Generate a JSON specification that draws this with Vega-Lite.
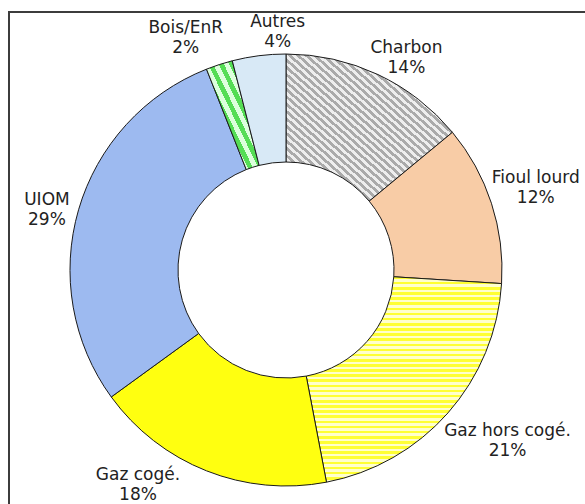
{
 "$schema": "https://vega.github.io/schema/vega-lite/v6.json",
 "width": 580, "height": 520,
 "autosize": {"type": "none"},
 "padding": {"left": 9, "top": 12, "right": 0, "bottom": 0},
 "background": "white",
 "view": {"stroke": "#3c3c3c", "strokeWidth": 2, "fill": "white"},
 "config": {"text": {"font": "DejaVu Sans"}},
 "data": {"values": [
   {"source": "Charbon", "value": 14, "order": 1, "label": "Charbon\n14%"},
   {"source": "Fioul lourd", "value": 12, "order": 2, "label": "Fioul lourd\n12%"},
   {"source": "Gaz hors cogé.", "value": 21, "order": 3, "label": "Gaz hors cogé.\n21%"},
   {"source": "Gaz cogé.", "value": 18, "order": 4, "label": "Gaz cogé.\n18%"},
   {"source": "UIOM", "value": 29, "order": 5, "label": "UIOM\n29%"},
   {"source": "Bois/EnR", "value": 2, "order": 6, "label": "Bois/EnR\n2%"},
   {"source": "Autres", "value": 4, "order": 7, "label": "Autres\n4%"}
 ]},
 "encoding": {
   "theta": {"field": "value", "type": "quantitative", "stack": true},
   "order": {"field": "order", "type": "quantitative"}
 },
 "layer": [
  {
   "mark": {"type": "arc", "innerRadius": 108, "outerRadius": 216, "x": 277, "y": 258, "stroke": "#1a1a1a", "strokeWidth": 1},
   "encoding": {
    "fill": {
     "field": "source", "type": "nominal", "legend": null,
     "scale": {
      "domain": ["Charbon", "Fioul lourd", "Gaz hors cogé.", "Gaz cogé.", "UIOM", "Bois/EnR", "Autres"],
      "range": ["#c8c8c8", "#f8cca6", "#ffff80", "#ffff10", "#9dbaf0", "#9be89b", "#d8e9f6"]
     },
     "condition": [
      {"test": "datum.source === 'Charbon'", "value": {"gradient": "linear", "x1": 0, "y1": 1, "x2": 1, "y2": 0, "stops": [
{"offset":0,"color":"#aaa"},{"offset":0.0125,"color":"#aaa"},{"offset":0.0125,"color":"#eee"},{"offset":0.025,"color":"#eee"},
{"offset":0.025,"color":"#aaa"},{"offset":0.0375,"color":"#aaa"},{"offset":0.0375,"color":"#eee"},{"offset":0.05,"color":"#eee"},
{"offset":0.05,"color":"#aaa"},{"offset":0.0625,"color":"#aaa"},{"offset":0.0625,"color":"#eee"},{"offset":0.075,"color":"#eee"},
{"offset":0.075,"color":"#aaa"},{"offset":0.0875,"color":"#aaa"},{"offset":0.0875,"color":"#eee"},{"offset":0.1,"color":"#eee"},
{"offset":0.1,"color":"#aaa"},{"offset":0.1125,"color":"#aaa"},{"offset":0.1125,"color":"#eee"},{"offset":0.125,"color":"#eee"},
{"offset":0.125,"color":"#aaa"},{"offset":0.1375,"color":"#aaa"},{"offset":0.1375,"color":"#eee"},{"offset":0.15,"color":"#eee"},
{"offset":0.15,"color":"#aaa"},{"offset":0.1625,"color":"#aaa"},{"offset":0.1625,"color":"#eee"},{"offset":0.175,"color":"#eee"},
{"offset":0.175,"color":"#aaa"},{"offset":0.1875,"color":"#aaa"},{"offset":0.1875,"color":"#eee"},{"offset":0.2,"color":"#eee"},
{"offset":0.2,"color":"#aaa"},{"offset":0.2125,"color":"#aaa"},{"offset":0.2125,"color":"#eee"},{"offset":0.225,"color":"#eee"},
{"offset":0.225,"color":"#aaa"},{"offset":0.2375,"color":"#aaa"},{"offset":0.2375,"color":"#eee"},{"offset":0.25,"color":"#eee"},
{"offset":0.25,"color":"#aaa"},{"offset":0.2625,"color":"#aaa"},{"offset":0.2625,"color":"#eee"},{"offset":0.275,"color":"#eee"},
{"offset":0.275,"color":"#aaa"},{"offset":0.2875,"color":"#aaa"},{"offset":0.2875,"color":"#eee"},{"offset":0.3,"color":"#eee"},
{"offset":0.3,"color":"#aaa"},{"offset":0.3125,"color":"#aaa"},{"offset":0.3125,"color":"#eee"},{"offset":0.325,"color":"#eee"},
{"offset":0.325,"color":"#aaa"},{"offset":0.3375,"color":"#aaa"},{"offset":0.3375,"color":"#eee"},{"offset":0.35,"color":"#eee"},
{"offset":0.35,"color":"#aaa"},{"offset":0.3625,"color":"#aaa"},{"offset":0.3625,"color":"#eee"},{"offset":0.375,"color":"#eee"},
{"offset":0.375,"color":"#aaa"},{"offset":0.3875,"color":"#aaa"},{"offset":0.3875,"color":"#eee"},{"offset":0.4,"color":"#eee"},
{"offset":0.4,"color":"#aaa"},{"offset":0.4125,"color":"#aaa"},{"offset":0.4125,"color":"#eee"},{"offset":0.425,"color":"#eee"},
{"offset":0.425,"color":"#aaa"},{"offset":0.4375,"color":"#aaa"},{"offset":0.4375,"color":"#eee"},{"offset":0.45,"color":"#eee"},
{"offset":0.45,"color":"#aaa"},{"offset":0.4625,"color":"#aaa"},{"offset":0.4625,"color":"#eee"},{"offset":0.475,"color":"#eee"},
{"offset":0.475,"color":"#aaa"},{"offset":0.4875,"color":"#aaa"},{"offset":0.4875,"color":"#eee"},{"offset":0.5,"color":"#eee"},
{"offset":0.5,"color":"#aaa"},{"offset":0.5125,"color":"#aaa"},{"offset":0.5125,"color":"#eee"},{"offset":0.525,"color":"#eee"},
{"offset":0.525,"color":"#aaa"},{"offset":0.5375,"color":"#aaa"},{"offset":0.5375,"color":"#eee"},{"offset":0.55,"color":"#eee"},
{"offset":0.55,"color":"#aaa"},{"offset":0.5625,"color":"#aaa"},{"offset":0.5625,"color":"#eee"},{"offset":0.575,"color":"#eee"},
{"offset":0.575,"color":"#aaa"},{"offset":0.5875,"color":"#aaa"},{"offset":0.5875,"color":"#eee"},{"offset":0.6,"color":"#eee"},
{"offset":0.6,"color":"#aaa"},{"offset":0.6125,"color":"#aaa"},{"offset":0.6125,"color":"#eee"},{"offset":0.625,"color":"#eee"},
{"offset":0.625,"color":"#aaa"},{"offset":0.6375,"color":"#aaa"},{"offset":0.6375,"color":"#eee"},{"offset":0.65,"color":"#eee"},
{"offset":0.65,"color":"#aaa"},{"offset":0.6625,"color":"#aaa"},{"offset":0.6625,"color":"#eee"},{"offset":0.675,"color":"#eee"},
{"offset":0.675,"color":"#aaa"},{"offset":0.6875,"color":"#aaa"},{"offset":0.6875,"color":"#eee"},{"offset":0.7,"color":"#eee"},
{"offset":0.7,"color":"#aaa"},{"offset":0.7125,"color":"#aaa"},{"offset":0.7125,"color":"#eee"},{"offset":0.725,"color":"#eee"},
{"offset":0.725,"color":"#aaa"},{"offset":0.7375,"color":"#aaa"},{"offset":0.7375,"color":"#eee"},{"offset":0.75,"color":"#eee"},
{"offset":0.75,"color":"#aaa"},{"offset":0.7625,"color":"#aaa"},{"offset":0.7625,"color":"#eee"},{"offset":0.775,"color":"#eee"},
{"offset":0.775,"color":"#aaa"},{"offset":0.7875,"color":"#aaa"},{"offset":0.7875,"color":"#eee"},{"offset":0.8,"color":"#eee"},
{"offset":0.8,"color":"#aaa"},{"offset":0.8125,"color":"#aaa"},{"offset":0.8125,"color":"#eee"},{"offset":0.825,"color":"#eee"},
{"offset":0.825,"color":"#aaa"},{"offset":0.8375,"color":"#aaa"},{"offset":0.8375,"color":"#eee"},{"offset":0.85,"color":"#eee"},
{"offset":0.85,"color":"#aaa"},{"offset":0.8625,"color":"#aaa"},{"offset":0.8625,"color":"#eee"},{"offset":0.875,"color":"#eee"},
{"offset":0.875,"color":"#aaa"},{"offset":0.8875,"color":"#aaa"},{"offset":0.8875,"color":"#eee"},{"offset":0.9,"color":"#eee"},
{"offset":0.9,"color":"#aaa"},{"offset":0.9125,"color":"#aaa"},{"offset":0.9125,"color":"#eee"},{"offset":0.925,"color":"#eee"},
{"offset":0.925,"color":"#aaa"},{"offset":0.9375,"color":"#aaa"},{"offset":0.9375,"color":"#eee"},{"offset":0.95,"color":"#eee"},
{"offset":0.95,"color":"#aaa"},{"offset":0.9625,"color":"#aaa"},{"offset":0.9625,"color":"#eee"},{"offset":0.975,"color":"#eee"},
{"offset":0.975,"color":"#aaa"},{"offset":0.9875,"color":"#aaa"},{"offset":0.9875,"color":"#eee"},{"offset":1,"color":"#eee"}
      ]}},
      {"test": "datum.source === 'Gaz hors cogé.'", "value": {"gradient": "linear", "x1": 0, "y1": 0, "x2": 0, "y2": 1, "stops": [
{"offset":0,"color":"#ff3"},{"offset":0.0125,"color":"#ff3"},{"offset":0.0125,"color":"#ffc"},{"offset":0.025,"color":"#ffc"},
{"offset":0.025,"color":"#ff3"},{"offset":0.0375,"color":"#ff3"},{"offset":0.0375,"color":"#ffc"},{"offset":0.05,"color":"#ffc"},
{"offset":0.05,"color":"#ff3"},{"offset":0.0625,"color":"#ff3"},{"offset":0.0625,"color":"#ffc"},{"offset":0.075,"color":"#ffc"},
{"offset":0.075,"color":"#ff3"},{"offset":0.0875,"color":"#ff3"},{"offset":0.0875,"color":"#ffc"},{"offset":0.1,"color":"#ffc"},
{"offset":0.1,"color":"#ff3"},{"offset":0.1125,"color":"#ff3"},{"offset":0.1125,"color":"#ffc"},{"offset":0.125,"color":"#ffc"},
{"offset":0.125,"color":"#ff3"},{"offset":0.1375,"color":"#ff3"},{"offset":0.1375,"color":"#ffc"},{"offset":0.15,"color":"#ffc"},
{"offset":0.15,"color":"#ff3"},{"offset":0.1625,"color":"#ff3"},{"offset":0.1625,"color":"#ffc"},{"offset":0.175,"color":"#ffc"},
{"offset":0.175,"color":"#ff3"},{"offset":0.1875,"color":"#ff3"},{"offset":0.1875,"color":"#ffc"},{"offset":0.2,"color":"#ffc"},
{"offset":0.2,"color":"#ff3"},{"offset":0.2125,"color":"#ff3"},{"offset":0.2125,"color":"#ffc"},{"offset":0.225,"color":"#ffc"},
{"offset":0.225,"color":"#ff3"},{"offset":0.2375,"color":"#ff3"},{"offset":0.2375,"color":"#ffc"},{"offset":0.25,"color":"#ffc"},
{"offset":0.25,"color":"#ff3"},{"offset":0.2625,"color":"#ff3"},{"offset":0.2625,"color":"#ffc"},{"offset":0.275,"color":"#ffc"},
{"offset":0.275,"color":"#ff3"},{"offset":0.2875,"color":"#ff3"},{"offset":0.2875,"color":"#ffc"},{"offset":0.3,"color":"#ffc"},
{"offset":0.3,"color":"#ff3"},{"offset":0.3125,"color":"#ff3"},{"offset":0.3125,"color":"#ffc"},{"offset":0.325,"color":"#ffc"},
{"offset":0.325,"color":"#ff3"},{"offset":0.3375,"color":"#ff3"},{"offset":0.3375,"color":"#ffc"},{"offset":0.35,"color":"#ffc"},
{"offset":0.35,"color":"#ff3"},{"offset":0.3625,"color":"#ff3"},{"offset":0.3625,"color":"#ffc"},{"offset":0.375,"color":"#ffc"},
{"offset":0.375,"color":"#ff3"},{"offset":0.3875,"color":"#ff3"},{"offset":0.3875,"color":"#ffc"},{"offset":0.4,"color":"#ffc"},
{"offset":0.4,"color":"#ff3"},{"offset":0.4125,"color":"#ff3"},{"offset":0.4125,"color":"#ffc"},{"offset":0.425,"color":"#ffc"},
{"offset":0.425,"color":"#ff3"},{"offset":0.4375,"color":"#ff3"},{"offset":0.4375,"color":"#ffc"},{"offset":0.45,"color":"#ffc"},
{"offset":0.45,"color":"#ff3"},{"offset":0.4625,"color":"#ff3"},{"offset":0.4625,"color":"#ffc"},{"offset":0.475,"color":"#ffc"},
{"offset":0.475,"color":"#ff3"},{"offset":0.4875,"color":"#ff3"},{"offset":0.4875,"color":"#ffc"},{"offset":0.5,"color":"#ffc"},
{"offset":0.5,"color":"#ff3"},{"offset":0.5125,"color":"#ff3"},{"offset":0.5125,"color":"#ffc"},{"offset":0.525,"color":"#ffc"},
{"offset":0.525,"color":"#ff3"},{"offset":0.5375,"color":"#ff3"},{"offset":0.5375,"color":"#ffc"},{"offset":0.55,"color":"#ffc"},
{"offset":0.55,"color":"#ff3"},{"offset":0.5625,"color":"#ff3"},{"offset":0.5625,"color":"#ffc"},{"offset":0.575,"color":"#ffc"},
{"offset":0.575,"color":"#ff3"},{"offset":0.5875,"color":"#ff3"},{"offset":0.5875,"color":"#ffc"},{"offset":0.6,"color":"#ffc"},
{"offset":0.6,"color":"#ff3"},{"offset":0.6125,"color":"#ff3"},{"offset":0.6125,"color":"#ffc"},{"offset":0.625,"color":"#ffc"},
{"offset":0.625,"color":"#ff3"},{"offset":0.6375,"color":"#ff3"},{"offset":0.6375,"color":"#ffc"},{"offset":0.65,"color":"#ffc"},
{"offset":0.65,"color":"#ff3"},{"offset":0.6625,"color":"#ff3"},{"offset":0.6625,"color":"#ffc"},{"offset":0.675,"color":"#ffc"},
{"offset":0.675,"color":"#ff3"},{"offset":0.6875,"color":"#ff3"},{"offset":0.6875,"color":"#ffc"},{"offset":0.7,"color":"#ffc"},
{"offset":0.7,"color":"#ff3"},{"offset":0.7125,"color":"#ff3"},{"offset":0.7125,"color":"#ffc"},{"offset":0.725,"color":"#ffc"},
{"offset":0.725,"color":"#ff3"},{"offset":0.7375,"color":"#ff3"},{"offset":0.7375,"color":"#ffc"},{"offset":0.75,"color":"#ffc"},
{"offset":0.75,"color":"#ff3"},{"offset":0.7625,"color":"#ff3"},{"offset":0.7625,"color":"#ffc"},{"offset":0.775,"color":"#ffc"},
{"offset":0.775,"color":"#ff3"},{"offset":0.7875,"color":"#ff3"},{"offset":0.7875,"color":"#ffc"},{"offset":0.8,"color":"#ffc"},
{"offset":0.8,"color":"#ff3"},{"offset":0.8125,"color":"#ff3"},{"offset":0.8125,"color":"#ffc"},{"offset":0.825,"color":"#ffc"},
{"offset":0.825,"color":"#ff3"},{"offset":0.8375,"color":"#ff3"},{"offset":0.8375,"color":"#ffc"},{"offset":0.85,"color":"#ffc"},
{"offset":0.85,"color":"#ff3"},{"offset":0.8625,"color":"#ff3"},{"offset":0.8625,"color":"#ffc"},{"offset":0.875,"color":"#ffc"},
{"offset":0.875,"color":"#ff3"},{"offset":0.8875,"color":"#ff3"},{"offset":0.8875,"color":"#ffc"},{"offset":0.9,"color":"#ffc"},
{"offset":0.9,"color":"#ff3"},{"offset":0.9125,"color":"#ff3"},{"offset":0.9125,"color":"#ffc"},{"offset":0.925,"color":"#ffc"},
{"offset":0.925,"color":"#ff3"},{"offset":0.9375,"color":"#ff3"},{"offset":0.9375,"color":"#ffc"},{"offset":0.95,"color":"#ffc"},
{"offset":0.95,"color":"#ff3"},{"offset":0.9625,"color":"#ff3"},{"offset":0.9625,"color":"#ffc"},{"offset":0.975,"color":"#ffc"},
{"offset":0.975,"color":"#ff3"},{"offset":0.9875,"color":"#ff3"},{"offset":0.9875,"color":"#ffc"},{"offset":1,"color":"#ffc"}
      ]}},
      {"test": "datum.source === 'Bois/EnR'", "value": {"gradient": "linear", "x1": 0, "y1": 1, "x2": 1, "y2": 0, "stops": [
{"offset":0,"color":"#5d5"},{"offset":0.05,"color":"#5d5"},{"offset":0.05,"color":"#dfd"},{"offset":0.1,"color":"#dfd"},
{"offset":0.1,"color":"#5d5"},{"offset":0.15,"color":"#5d5"},{"offset":0.15,"color":"#dfd"},{"offset":0.2,"color":"#dfd"},
{"offset":0.2,"color":"#5d5"},{"offset":0.25,"color":"#5d5"},{"offset":0.25,"color":"#dfd"},{"offset":0.3,"color":"#dfd"},
{"offset":0.3,"color":"#5d5"},{"offset":0.35,"color":"#5d5"},{"offset":0.35,"color":"#dfd"},{"offset":0.4,"color":"#dfd"},
{"offset":0.4,"color":"#5d5"},{"offset":0.45,"color":"#5d5"},{"offset":0.45,"color":"#dfd"},{"offset":0.5,"color":"#dfd"},
{"offset":0.5,"color":"#5d5"},{"offset":0.55,"color":"#5d5"},{"offset":0.55,"color":"#dfd"},{"offset":0.6,"color":"#dfd"},
{"offset":0.6,"color":"#5d5"},{"offset":0.65,"color":"#5d5"},{"offset":0.65,"color":"#dfd"},{"offset":0.7,"color":"#dfd"},
{"offset":0.7,"color":"#5d5"},{"offset":0.75,"color":"#5d5"},{"offset":0.75,"color":"#dfd"},{"offset":0.8,"color":"#dfd"},
{"offset":0.8,"color":"#5d5"},{"offset":0.85,"color":"#5d5"},{"offset":0.85,"color":"#dfd"},{"offset":0.9,"color":"#dfd"},
{"offset":0.9,"color":"#5d5"},{"offset":0.95,"color":"#5d5"},{"offset":0.95,"color":"#dfd"},{"offset":1,"color":"#dfd"}
      ]}}
     ]
    }
   }
  },
  {"mark": {"type": "text", "radius": 250, "x": 277, "y": 258, "dx": 14, "dy": 4, "fontSize": 17, "lineBreak": "\n", "lineHeight": 20, "fill": "#222"},
   "encoding": {"text": {"condition": {"test": "datum.source === 'Charbon'", "field": "label"}, "value": ""}}},
  {"mark": {"type": "text", "radius": 250, "x": 277, "y": 258, "dx": 12, "dy": -15, "fontSize": 17, "lineBreak": "\n", "lineHeight": 20, "fill": "#222"},
   "encoding": {"text": {"condition": {"test": "datum.source === 'Fioul lourd'", "field": "label"}, "value": ""}}},
  {"mark": {"type": "text", "radius": 250, "x": 277, "y": 258, "dx": 34, "dy": -4, "fontSize": 17, "lineBreak": "\n", "lineHeight": 20, "fill": "#222"},
   "encoding": {"text": {"condition": {"test": "datum.source === 'Gaz hors cogé.'", "field": "label"}, "value": ""}}},
  {"mark": {"type": "text", "radius": 250, "x": 277, "y": 258, "dx": -56, "dy": -27, "fontSize": 17, "lineBreak": "\n", "lineHeight": 20, "fill": "#222"},
   "encoding": {"text": {"condition": {"test": "datum.source === 'Gaz cogé.'", "field": "label"}, "value": ""}}},
  {"mark": {"type": "text", "radius": 250, "x": 277, "y": 258, "dx": 1, "dy": 0, "fontSize": 17, "lineBreak": "\n", "lineHeight": 20, "fill": "#222"},
   "encoding": {"text": {"condition": {"test": "datum.source === 'UIOM'", "field": "label"}, "value": ""}}},
  {"mark": {"type": "text", "radius": 250, "x": 277, "y": 258, "dx": -23, "dy": -4, "fontSize": 17, "lineBreak": "\n", "lineHeight": 20, "fill": "#222"},
   "encoding": {"text": {"condition": {"test": "datum.source === 'Bois/EnR'", "field": "label"}, "value": ""}}},
  {"mark": {"type": "text", "radius": 250, "x": 277, "y": 258, "dx": 23, "dy": 0, "fontSize": 17, "lineBreak": "\n", "lineHeight": 20, "fill": "#222"},
   "encoding": {"text": {"condition": {"test": "datum.source === 'Autres'", "field": "label"}, "value": ""}}}
 ]
}
